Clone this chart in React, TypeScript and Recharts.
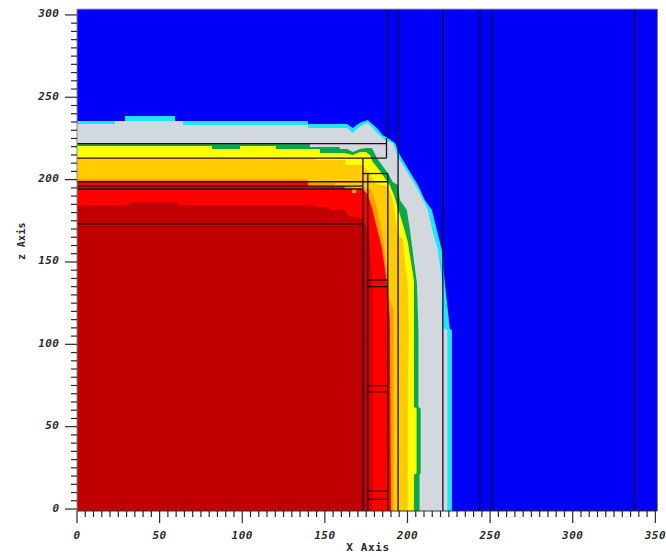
import React from "react";
import { ComposedChart, Area, XAxis, YAxis, ReferenceLine, Label } from "recharts";

const xMax = 351;
const zMin = -1.2;
const zMax = 303.6;

const xTicks = [0,5,10,15,20,25,30,35,40,45,50,55,60,65,70,75,80,85,90,95,100,105,110,115,120,125,130,135,140,145,150,155,160,165,170,175,180,185,190,195,200,205,210,215,220,225,230,235,240,245,250,255,260,265,270,275,280,285,290,295,300,305,310,315,320,325,330,335,340,345,350];
const zTicks = [0,5,10,15,20,25,30,35,40,45,50,55,60,65,70,75,80,85,90,95,100,105,110,115,120,125,130,135,140,145,150,155,160,165,170,175,180,185,190,195,200,205,210,215,220,225,230,235,240,245,250,255,260,265,270,275,280,285,290,295,300];
const majorTicks = [0,50,100,150,200,250,300,350];

type P = [number, number];

const blueBand: P[] = [[0,303.6],[351,303.6]];
const cyanBand: P[] = [[0,235.6],[29,235.6],[29,238.6],[59.3,238.6],[59.3,235.6],[139.8,235.6],[139.8,233.8],[163.4,233.8],[167,231.3],[170,233.8],[172.4,235],[176,236.2],[181.5,231.3],[185.1,227],[188.1,225.3],[192.4,222.2],[195.4,214.9],[201.5,204.6],[206.3,196.7],[210.5,187.6],[214.8,181.5],[217.8,169.4],[220.8,157.3],[222.6,137.2],[224,125],[225.6,109.5],[226.9,108.7],[226.9,-1.2]];
const grayBand: P[] = [[0,233.8],[23,233.8],[23,235.6],[64.2,235.6],[64.2,233.2],[139.8,233.2],[139.8,231.3],[163.4,231.3],[167,228.3],[170,231.3],[174.2,233.8],[176,234.4],[181.5,228.3],[186.3,224],[191.1,222.2],[194.2,213.7],[200.2,204],[205.7,194.9],[209.3,187.6],[212.3,181.5],[215.4,167.6],[218.4,157.3],[220.8,139],[221.4,134.8],[221.4,109.9],[224.1,108.7],[224.1,-1.2]];
const greenBand: P[] = [[0,221.6],[141,221.6],[141,219.8],[159,219.8],[159,218.6],[163.4,218.6],[167,216.8],[171.2,218.6],[175.4,219.2],[178.5,219.2],[181.5,213.1],[184.5,208.9],[188.1,204],[191.1,198.5],[194.2,196.7],[195.4,187.6],[199.6,181.5],[201.5,169.4],[203.3,155.4],[205.7,137.2],[206.6,108.7],[206.6,62],[208,61],[208,21.9],[207.3,20.6],[207.3,-1.2]];
const yellowBand: P[] = [[0,220.4],[81.7,220.4],[81.7,218.6],[98.7,218.6],[98.7,220.4],[120.4,220.4],[120.4,218.6],[147,218.6],[147,216.1],[162,216.1],[167,214.9],[171.2,216.8],[174.8,216.8],[177.3,214.9],[179,210.7],[182,207],[186.3,201],[189.3,196.7],[191.8,190.7],[194.2,182.8],[197.2,173],[200.2,162.1],[203.9,139],[203.9,62],[205.5,61],[205.5,21.9],[203.9,20.6],[203.9,-1.2]];
const goldBand: P[] = [[0,213.1],[144,213.1],[144,211.9],[162.5,211.9],[162.5,208.9],[173,208.9],[174.2,207],[177.3,204],[180.3,198],[183.3,196.7],[188.1,196.1],[191.1,187.6],[194.2,166.4],[197.2,164],[198.4,151.2],[200.2,136],[200.8,108.7],[200.2,74.9],[200.2,-1.2]];
const orangeBand: P[] = [[0,200.4],[139.8,200.4],[139.8,197.9],[156,197.9],[156,196.1],[173,194.9],[177.9,194.3],[181.5,182.8],[185.1,164.5],[188.1,143.9],[188.7,128.7],[191.5,120.8],[191.5,-1.2]];
const redBand: P[] = [[0,198.7],[139.8,198.7],[139.8,196.1],[162,196.1],[162,194.3],[166.4,194.3],[166.4,191.9],[169,191.9],[169,194.3],[173,194.3],[176,190.7],[178.5,182.8],[181.5,170.6],[184.5,158.5],[186.3,146.3],[188.1,133],[189.3,114.8],[190,-1.2]];
const deepRedBand: P[] = [[0,184.6],[32,184.6],[32,186.1],[61,186.1],[61,184.6],[144,184.6],[144,183.4],[153,183.4],[153,181.5],[162,181.5],[165,177.3],[171.2,177.3],[173,174.3],[176,170.6],[178.5,145.1],[179,128.7],[179,-1.2]];
const darkRedBand: P[] = [[0,184.6],[32,184.6],[32,186.1],[61,186.1],[61,184.6],[144,184.6],[144,183.4],[153,183.4],[153,181.5],[162,181.5],[165,177.3],[171.2,177.3],[173,174.3],[176,170.6],[176,-1.2]];

const bands: { data: P[]; color: string }[] = [
  { data: blueBand, color: "#0000f8" },
  { data: cyanBand, color: "#1fe6ff" },
  { data: grayBand, color: "#d3d8de" },
  { data: greenBand, color: "#0aa84a" },
  { data: yellowBand, color: "#ffff00" },
  { data: goldBand, color: "#ffcc00" },
  { data: orangeBand, color: "#ff9a00" },
  { data: redBand, color: "#ff0000" },
  { data: deepRedBand, color: "#d80000" },
  { data: darkRedBand, color: "#c00000" },
];

// [x, zFrom, zTo]
const verticalLines: [number, number, number][] = [
  [188.1, 225.3, 303.6],
  [187.3, 213.1, 225.3],
  [188.1, -1.2, 203.7],
  [173, -1.2, 213.1],
  [176, -1.2, 203.7],
  [194.3, -1.2, 303.6],
  [221.4, -1.2, 303.6],
  [243.8, -1.2, 303.6],
  [251.1, -1.2, 303.6],
  [337.3, -1.2, 303.6],
];
// [z, xFrom, xTo]
const horizontalLines: [number, number, number][] = [
  [221.9, 0, 187.3],
  [213.1, 0, 187.3],
  [203.7, 173, 188.1],
  [198.7, 0, 188.1],
  [196.1, 0, 173],
  [194.3, 0, 173],
  [173.2, 0, 173],
  [139, 176, 188.1],
  [135, 176, 188.1],
  [74.9, 176, 188.1],
  [71.2, 176, 188.1],
  [10.9, 176, 188.1],
  [5.9, 176, 188.1],
];

const font = "'DejaVu Sans Mono', 'Liberation Mono', monospace";
const ink = "#2a2a2a";

function XTick({ x, y, payload }: any) {
  const major = majorTicks.includes(payload.value);
  return (
    <g>
      <line x1={x} x2={x} y1={y} y2={y + (major ? 12 : 6)} stroke={ink} strokeWidth={1.2} />
      {major && (
        <text x={x} y={y + 27.5} textAnchor="middle" fontFamily={font} fontSize={11} fontWeight={700} fontStyle="italic" letterSpacing={0.5} fill={ink}>
          {payload.value}
        </text>
      )}
    </g>
  );
}

function YTick({ x, y, payload }: any) {
  const major = majorTicks.includes(payload.value);
  return (
    <g>
      <line x1={x - (major ? 12 : 6)} x2={x} y1={y} y2={y} stroke={ink} strokeWidth={1.2} />
      {major && (
        <text x={x - 17.5} y={y + 2.5} textAnchor="end" fontFamily={font} fontSize={11} fontWeight={700} fontStyle="italic" letterSpacing={0.5} fill={ink}>
          {payload.value}
        </text>
      )}
    </g>
  );
}

export default function App() {
  return (
    <div style={{ position: "absolute", left: 0, top: 0, width: 666, height: 557, background: "#fff" }}>
      <ComposedChart width={666} height={557} margin={{ top: 9, right: 9, bottom: 0, left: 0 }}>
        <XAxis
          type="number"
          dataKey="0"
          domain={[0, xMax]}
          ticks={xTicks}
          interval={0}
          height={46}
          tickSize={0}
          tickMargin={0}
          tickLine={false}
          tick={XTick}
          stroke="#333"
          allowDataOverflow
        >
          <Label value="X Axis" position="insideBottom" offset={6} dx={1} fontFamily={font} fontSize={11} fontWeight={700} letterSpacing={0.6} fill={ink} />
        </XAxis>
        <YAxis
          type="number"
          domain={[zMin, zMax]}
          ticks={zTicks}
          interval={0}
          width={77}
          tickSize={0}
          tickMargin={0}
          tickLine={false}
          tick={YTick}
          stroke="#888"
          allowDataOverflow
        >
          <Label value="z Axis" angle={-90} position="insideLeft" offset={21} fontFamily={font} fontSize={10} fontWeight={700} letterSpacing={0.3} fill={ink} />
        </YAxis>
        {bands.map((b, i) => (
          <Area
            key={i}
            data={b.data}
            dataKey="1"
            type="linear"
            baseValue={zMin}
            fill={b.color}
            fillOpacity={1}
            stroke="none"
            dot={false}
            activeDot={false}
            isAnimationActive={false}
          />
        ))}
        {verticalLines.map(([x, z0, z1], i) => (
          <ReferenceLine key={"v" + i} segment={[{ x, y: z0 }, { x, y: z1 }]} stroke="#10102a" strokeWidth={1.3} />
        ))}
        {horizontalLines.map(([z, x0, x1], i) => (
          <ReferenceLine key={"h" + i} segment={[{ x: x0, y: z }, { x: x1, y: z }]} stroke="#201010" strokeWidth={1.3} />
        ))}
        <ReferenceLine segment={[{ x: 351, y: zMin }, { x: 351, y: zMax }]} stroke="#1a1a70" strokeWidth={1.2} />
        <ReferenceLine segment={[{ x: 0, y: zMax }, { x: 351, y: zMax }]} stroke="#aaa" strokeWidth={1} />
      </ComposedChart>
    </div>
  );
}
